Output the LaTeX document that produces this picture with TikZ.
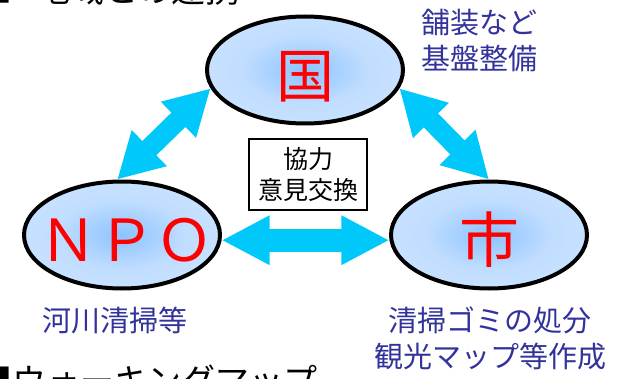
\documentclass[tikz,border=0pt]{standalone}
\usepackage{fontspec}
\setmainfont{Noto Sans CJK JP}
\usetikzlibrary{arrows.meta,shapes.geometric}
\definecolor{ellin}{RGB}{140,195,255}
\definecolor{ellmid}{RGB}{192,221,255}
\definecolor{ellout}{RGB}{214,232,255}
\definecolor{arrowcyan}{RGB}{0,200,250}
\definecolor{labelblue}{RGB}{50,50,155}
\pgfdeclareradialshading{ellshade}{\pgfpoint{0bp}{0bp}}{color(0bp)=(ellin); color(16bp)=(ellmid); color(42bp)=(ellout); color(100bp)=(ellout)}
\begin{document}
\begin{tikzpicture}[x=1pt,y=1pt,
  ell/.style={ellipse, draw=black, line width=4pt, shade, shading=ellshade,
    minimum width=196pt, minimum height=107pt, inner sep=0pt},
  bigred/.style={text=red, font=\fontsize{58}{58}\selectfont, inner sep=0pt},
  boxst/.style={draw=black, line width=1.3pt, fill=white, align=center,
    font=\fontsize{25}{31}\selectfont, minimum width=118pt, minimum height=71pt, inner sep=0pt},
  lbl/.style={text=labelblue, font=\fontsize{29}{36}\selectfont, inner sep=0pt},
  head/.style={text=black, font=\fontsize{34}{34}\selectfont, inner sep=0pt},
  blkd/.style={arrowcyan, line width=20pt,
    {Triangle[length=45pt,width=47pt]}-{Triangle[length=45pt,width=47pt]}},
  blkh/.style={arrowcyan, line width=23pt,
    {Triangle[length=48pt,width=46pt]}-{Triangle[length=48pt,width=46pt]}}
]
\useasboundingbox (0,0) rectangle (631,378);
\clip (0,0) rectangle (631,378);

% cut-off headings
\node[head, anchor=base west] (h1sq) at (-22,375) {■};
\node[head, anchor=base west] (h1) at (36,375) {地域との連携};
\node[head, anchor=base west] (h2) at (-22,-15) {■ウォーキングマップ};

% ellipses
\node[ell] (guo) at (305,308) {};
\node[ell] (npo) at (122,143) {};
\node[ell] (shi) at (489,143) {};

\node[bigred] (guot) at ([yshift=-7pt]guo.center) {国};
\node[bigred] (npot) at ([xshift=4pt,yshift=-5pt]npo.center) {ＮＰＯ};
\node[bigred, font=\fontsize{60}{60}\selectfont] (shit) at ([yshift=-5pt]shi.center) {市};

% central box
\node[boxst] (coop) at (308,203.5) {協力\\意見交換};

% arrows
\draw[blkd] (npo.95) -- (guo.191);
\draw[blkd] (guo.-11) -- (shi.90);
\draw[blkh] (npo.-3) -- (shi.183);

% labels
\node[lbl, anchor=west, align=left] (lguo) at (421,338) {舗装など\\基盤整備};
\node[lbl] (lnpo) at (115,57) {河川清掃等};
\node[lbl, align=center] (lshi) at (490,39.5) {清掃ゴミの処分\\観光マップ等作成};
\end{tikzpicture}
\end{document}
